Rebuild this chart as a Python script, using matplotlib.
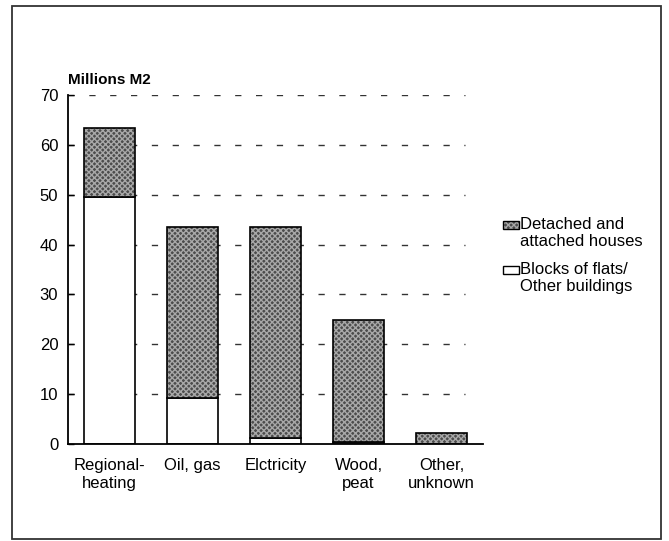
import matplotlib
matplotlib.use("Agg")
import matplotlib.pyplot as plt
from matplotlib.patches import Rectangle

plt.rcParams['font.family'] = ['Liberation Sans', 'DejaVu Sans']

categories = ["Regional-\nheating", "Oil, gas", "Elctricity", "Wood,\npeat", "Other,\nunknown"]
flats_other = [49.5, 9.3, 1.2, 0.5, 0.0]
houses = [13.8, 34.2, 42.3, 24.3, 2.3]
yticks = [0, 10, 20, 30, 40, 50, 60, 70]
legend_labels = ["Detached and\nattached houses", "Blocks of flats/\nOther buildings"]

W, H = 669, 541
fig = plt.figure(figsize=(W / 100, H / 100), dpi=100)
ax = fig.add_axes([68 / W, 1 - 444 / H, (483 - 68) / W, (444 - 95) / H])

STIPPLE_FACE = "#4c4c4c"
STIPPLE_HATCH = "#a8a8a8"
FS = 12
width = 0.61
x = list(range(len(categories)))

# dashed horizontal guides, drawn beneath the bars
for v in yticks[1:]:
    ax.plot([-0.5, 4.28], [v, v], color="#333333", lw=1.0,
            linestyle=(0, (4.5, 10.5)), zorder=1)

# lower segment: blocks of flats / other buildings
ax.bar(x, flats_other, width=width, color="white", edgecolor="black",
       linewidth=1.2, zorder=3)
# upper segment: detached and attached houses (stippled)
ax.bar(x, houses, width=width, bottom=flats_other, color=STIPPLE_FACE,
       edgecolor=STIPPLE_HATCH, hatch="xxxxxx", linewidth=0, zorder=3)
ax.bar(x, houses, width=width, bottom=flats_other, fill=False,
       edgecolor="black", linewidth=1.2, zorder=4)

ax.set_xlim(-0.5, 4.5)
ax.set_ylim(0, 70)
ax.set_yticks(yticks)
ax.set_xticks(x)
ax.set_xticklabels(categories, fontsize=FS, linespacing=1.25)
ax.tick_params(axis="x", length=0, pad=10)
ax.tick_params(axis="y", direction="in", length=4, width=1.0, labelsize=FS, pad=7)
for s in ("top", "right"):
    ax.spines[s].set_visible(False)
for s in ("left", "bottom"):
    ax.spines[s].set_linewidth(1.3)
    ax.spines[s].set_zorder(5)

fig.text(68 / W, 1 - 80 / H, "Millions M2", fontsize=11, fontweight="bold",
         va="center", ha="left")

# legend drawn by hand
tf = fig.transFigure
fig.patches.append(Rectangle((503 / W, 1 - 229 / H), 16 / W, 8 / H, transform=tf,
                             facecolor=STIPPLE_FACE, edgecolor=STIPPLE_HATCH,
                             hatch="xxxxxx", linewidth=0))
fig.patches.append(Rectangle((503 / W, 1 - 229 / H), 16 / W, 8 / H, transform=tf,
                             fill=False, edgecolor="black", linewidth=1.0))
fig.patches.append(Rectangle((503 / W, 1 - 274 / H), 16 / W, 8 / H, transform=tf,
                             facecolor="white", edgecolor="black", linewidth=1.0))
fig.text(520 / W, 1 - 217 / H, legend_labels[0], fontsize=FS, va="top",
         ha="left", linespacing=1.2)
fig.text(520 / W, 1 - 262 / H, legend_labels[1], fontsize=FS, va="top",
         ha="left", linespacing=1.2)

# outer frame
fig.patches.append(Rectangle((12 / W, 1 - 539 / H), (661 - 12) / W, (539 - 6) / H,
                             transform=tf, fill=False, edgecolor="#333333",
                             linewidth=1.3))

fig.savefig("out.png", dpi=100)
